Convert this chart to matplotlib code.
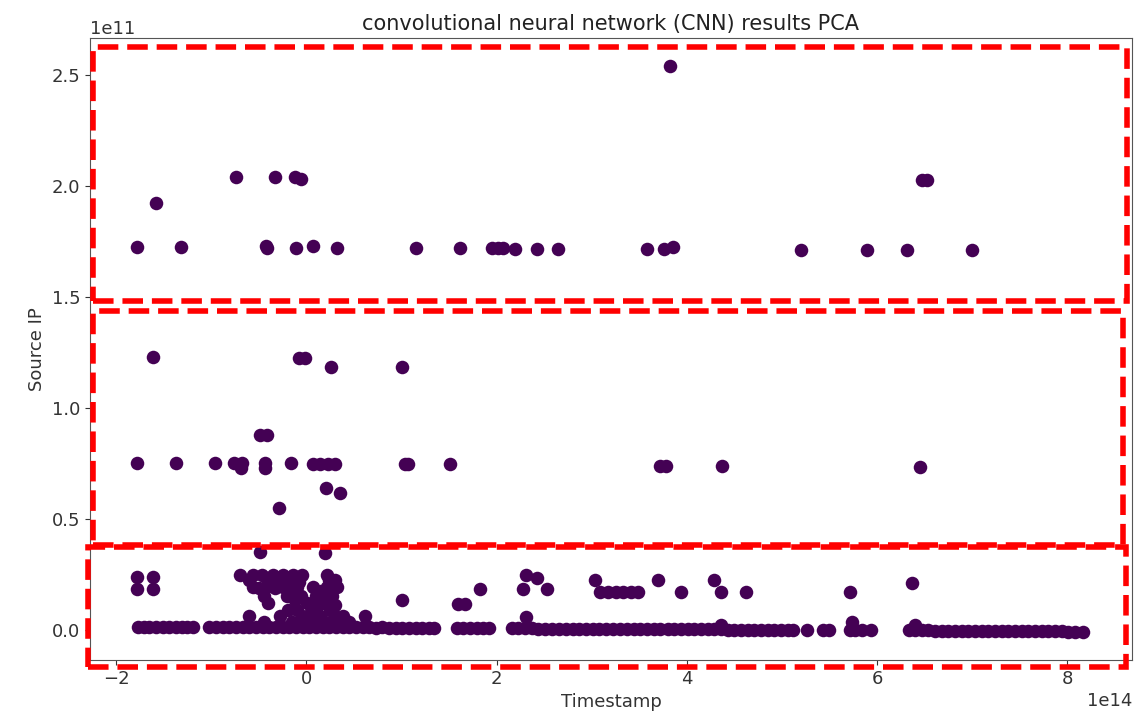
import matplotlib
matplotlib.use("Agg")
import matplotlib.pyplot as plt
from matplotlib.patches import Rectangle
import numpy as np

# ---- data (Timestamp in 1e14, Source IP in 1e11) ----
top_x = [-1.78, -1.58, -1.32, -0.74, -0.42, -0.41, -0.33, -0.12, -0.06, -0.11, 0.07, 0.32,
         1.15, 1.61, 1.95, 2.01, 2.07, 2.19, 2.42, 2.65, 3.58, 3.76, 3.85, 3.82,
         5.20, 5.89, 6.31, 6.47, 6.52, 7.00]
top_y = [1.726, 1.924, 1.726, 2.041, 1.729, 1.722, 2.041, 2.041, 2.030, 1.719, 1.729, 1.719,
         1.719, 1.719, 1.719, 1.719, 1.719, 1.717, 1.717, 1.715, 1.714, 1.714, 1.723, 2.541,
         1.711, 1.711, 1.711, 2.027, 2.027, 1.711]

mid_x = [-1.61, -0.08, -0.01, 0.26, 1.01, -0.49, -0.41, -1.78, -1.37, -0.96, -0.76, -0.68,
         -0.69, -0.43, -0.43, -0.16, 0.07, 0.14, 0.23, 0.30, 1.04, 1.07, 1.51, 0.21, 0.35,
         -0.29, 3.72, 3.78, 4.37, 6.45]
mid_y = [1.227, 1.223, 1.223, 1.182, 1.182, 0.878, 0.878, 0.749, 0.749, 0.749, 0.749, 0.749,
         0.727, 0.749, 0.727, 0.749, 0.748, 0.748, 0.748, 0.748, 0.748, 0.748, 0.745, 0.637,
         0.617, 0.546, 0.738, 0.738, 0.738, 0.734]

low_x = [-0.49, 0.20, -1.78, -1.78, -1.61, -1.61, 1.01, 1.59, 1.67, 1.82, 2.31, 2.28, 2.42,
         2.53, 2.31, 3.03, 3.09, 3.17, 3.25, 3.33, 3.41, 3.49, 3.70, 3.94, 4.29, 4.36, 4.62,
         5.71, 5.74, 6.37, 4.36, 6.40,
         -0.70, -0.56, -0.47, -0.35, -0.25, -0.14, -0.05, 0.22,
         -0.60, -0.40, -0.20, 0.24, 0.30, -0.30, -0.08,
         -0.56, -0.42, -0.25, -0.10, 0.07, 0.22, 0.32, -0.50, -0.33, -0.15, 0.15,
         -0.45, -0.20, -0.06, 0.10, 0.27, -0.12, 0.20,
         -0.40, 0.01, 0.14, 0.23, 0.17, 0.30,
         -0.19, -0.10, 0.10, 0.25, 0.05,
         -0.28, -0.60, 0.14, 0.39, 0.62, 0.30, 0.05, -0.05,
         -0.45, -0.15, 0.20, 0.35, 0.45, 0.0, 0.28]
low_y = [0.351, 0.344, 0.238, 0.181, 0.238, 0.181, 0.133, 0.116, 0.116, 0.184, 0.246, 0.184,
         0.232, 0.184, 0.058, 0.223, 0.170, 0.170, 0.170, 0.170, 0.170, 0.170, 0.223, 0.170,
         0.223, 0.170, 0.170, 0.170, 0.035, 0.211, 0.022, 0.022,
         0.244, 0.244, 0.244, 0.244, 0.244, 0.244, 0.244, 0.244,
         0.222, 0.222, 0.222, 0.222, 0.222, 0.215, 0.215,
         0.190, 0.190, 0.190, 0.190, 0.190, 0.190, 0.190, 0.185, 0.185, 0.175, 0.175,
         0.150, 0.150, 0.150, 0.150, 0.150, 0.135, 0.140,
         0.120, 0.120, 0.120, 0.120, 0.120, 0.110,
         0.090, 0.090, 0.090, 0.090, 0.080,
         0.060, 0.060, 0.060, 0.060, 0.060, 0.060, 0.060, 0.060,
         0.035, 0.035, 0.035, 0.035, 0.035, 0.030, 0.040]

row_x = [-1.77, -1.71, -1.65, -1.58, -1.51, -1.44, -1.37, -1.31, -1.25, -1.19,
         -1.02, -0.95, -0.88, -0.81, -0.74, -0.67, -0.60, -0.53, -0.46, -0.39, -0.32, -0.25,
         -0.18, -0.11, -0.04, 0.03, 0.10, 0.17, 0.24, 0.31, 0.38, 0.45, 0.52, 0.59, 0.66,
         0.73, 0.80, 0.87, 0.94, 1.01, 1.08, 1.15, 1.22, 1.29, 1.34,
         1.58, 1.65, 1.72, 1.79, 1.86, 1.92,
         2.16, 2.23, 2.30, 2.37, 2.44, 2.51, 2.58, 2.66, 2.73, 2.80, 2.87, 2.94, 3.01, 3.08,
         3.15, 3.22, 3.30, 3.37, 3.44, 3.51, 3.58, 3.65, 3.72, 3.80, 3.87, 3.94, 4.01, 4.08,
         4.15, 4.22, 4.29, 4.36, 4.43, 4.50, 4.57, 4.64, 4.71, 4.78, 4.85, 4.92, 4.99, 5.06,
         5.12, 5.26, 5.43, 5.49,
         5.71, 5.77, 5.84, 5.94,
         6.34, 6.40, 6.47, 6.54, 6.61, 6.68, 6.75, 6.82, 6.89, 6.96, 7.03, 7.10, 7.17, 7.24,
         7.31, 7.38, 7.45, 7.52, 7.59, 7.66, 7.73, 7.80, 7.87, 7.94, 8.01, 8.08, 8.17]
row_y = [0.013, 0.012, 0.013, 0.012, 0.012, 0.013, 0.012, 0.012, 0.013, 0.012,
         0.012, 0.013, 0.012, 0.012, 0.013, 0.012, 0.012, 0.013, 0.012, 0.012, 0.013, 0.012,
         0.012, 0.013, 0.012, 0.012, 0.011, 0.012, 0.011, 0.011, 0.010, 0.011, 0.010, 0.010,
         0.010, 0.009, 0.010, 0.009, 0.009, 0.009, 0.008, 0.009, 0.008, 0.008, 0.008,
         0.007, 0.007, 0.007, 0.006, 0.006, 0.006,
         0.005, 0.005, 0.005, 0.005, 0.004, 0.004, 0.004, 0.004, 0.004, 0.004, 0.003, 0.003,
         0.003, 0.003, 0.003, 0.003, 0.003, 0.002, 0.002, 0.002, 0.002, 0.002, 0.002, 0.002,
         0.002, 0.001, 0.001, 0.001, 0.001, 0.001, 0.001, 0.001, 0.000, 0.000, 0.000, 0.000,
         0.000, 0.000, 0.000, 0.000, 0.000, -0.001, -0.001, -0.001, -0.001, -0.001,
         -0.002, -0.002, -0.002, -0.002,
         -0.004, -0.004, -0.004, -0.004, -0.005, -0.005, -0.005, -0.005, -0.005, -0.006,
         -0.006, -0.006, -0.006, -0.006, -0.007, -0.007, -0.007, -0.007, -0.007, -0.008,
         -0.008, -0.008, -0.008, -0.008, -0.009, -0.009, -0.009]

x_scale = 1e14
y_scale = 1e11

# ---- figure ----
W, H = 1144, 724
fig = plt.figure(figsize=(W / 100, H / 100), dpi=100)
ax = fig.add_axes([90 / W, 1 - 660 / H, (1132 - 90) / W, (660 - 38) / H])

xs = np.array(top_x + mid_x + low_x + row_x) * x_scale
ys = np.array(top_y + mid_y + low_y + row_y) * y_scale
ax.scatter(xs, ys, s=95, color="#440154", linewidths=0)

ax.set_xlim(-2.275e14, 8.68e14)
ax.set_ylim(-0.1375e11, 2.667e11)
ax.set_xticks([-2e14, 0, 2e14, 4e14, 6e14, 8e14])
ax.set_yticks([0, 0.5e11, 1.0e11, 1.5e11, 2.0e11, 2.5e11])
ax.tick_params(labelsize=13, colors="#333333", labelcolor="#333333")
for sp in ax.spines.values():
    sp.set_color("#555555")
ax.xaxis.get_offset_text().set_fontsize(13)
ax.yaxis.get_offset_text().set_fontsize(13)
ax.xaxis.get_offset_text().set_color("#333333")
ax.yaxis.get_offset_text().set_color("#333333")

ax.set_title("convolutional neural network (CNN) results PCA", fontsize=15, color="#222222")
ax.set_xlabel("Timestamp", fontsize=13, color="#333333")
ax.set_ylabel("Source IP", fontsize=13, color="#333333")

# red dashed highlight boxes (figure pixel coordinates: left, top, right, bottom)
boxes = [(93, 47, 1127, 301), (93, 311, 1123, 545), (88, 547, 1126, 667)]
for (l, t, r, b) in boxes:
    fig.add_artist(Rectangle((l / W, 1 - b / H), (r - l) / W, (b - t) / H,
                             transform=fig.transFigure, fill=False,
                             edgecolor="#ff0000", linewidth=4, linestyle="--",
                             clip_on=False, zorder=10))

fig.savefig("out.png", dpi=100)
